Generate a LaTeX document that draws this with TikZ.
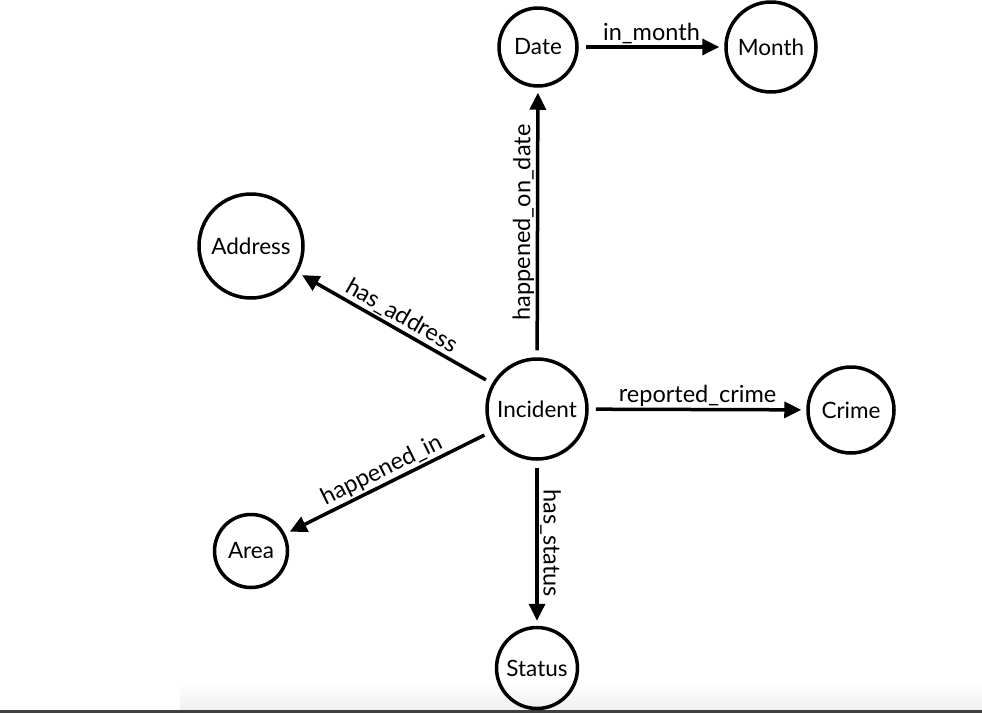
\documentclass[tikz,border=0pt]{standalone}
\usepackage{fontspec}
\setmainfont{Lato}
\usetikzlibrary{arrows.meta}
\tikzset{
  ent/.style={circle, draw, line width=3.5pt, inner sep=0pt, font=\fontsize{22.5}{26}\selectfont},
  rel/.style={-{Triangle[length=17pt,width=16pt]}, line width=3.5pt, shorten <=7pt, shorten >=5pt},
  lbl/.style={midway, sloped, above, inner sep=1.5pt, font=\fontsize{23.5}{27}\selectfont}
}
\begin{document}
\begin{tikzpicture}[x=1pt, y=-1pt]
  \useasboundingbox (0, 0) rectangle (982, 713);
  % screen edge at the bottom
  \shade[top color=white, bottom color=black!6] (180, 682) rectangle (982, 710);
  \fill[black!75] (0, 710) rectangle (982, 713);
  % entities
  \node[ent, minimum size=100pt] (incident) at (537, 409) {Incident};
  \node[ent, minimum size=78pt] (date) at (538, 47) {Date};
  \node[ent, minimum size=90pt] (month) at (771, 47) {Month};
  \node[ent, minimum size=104pt] (address) at (251, 246) {Address};
  \node[ent, minimum size=86pt] (crime) at (851, 410) {Crime};
  \node[ent, minimum size=73pt] (area) at (251, 551) {Area};
  \node[ent, minimum size=81pt] (status) at (537, 668) {Status};
  % relations
  \draw[rel] (date) -- (month) node[lbl] {in\_month};
  \draw[rel] (incident) -- (date) node[lbl] {happened\_on\_date};
  \draw[rel] (incident) -- (address) node[lbl] {has\_address};
  \draw[rel] (incident) -- (crime) node[lbl] {reported\_crime};
  \draw[rel] (incident) -- (area) node[lbl] {happened\_in};
  \draw[rel] (incident) -- (status) node[lbl] {has\_status};
\end{tikzpicture}
\end{document}
